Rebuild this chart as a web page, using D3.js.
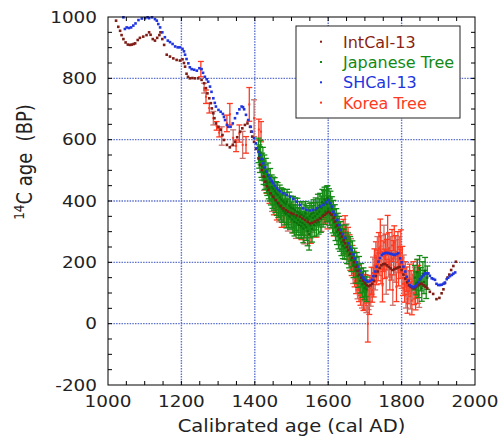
<!DOCTYPE html>
<html>
<head>
<meta charset="utf-8">
<script src="https://cdn.jsdelivr.net/npm/d3@7/dist/d3.min.js"></script>
<style>
  body { margin: 0; background: #fff; }
  svg { display: block; font-family: "DejaVu Sans", sans-serif; }
</style>
</head>
<body>
<svg id="chart" width="502" height="441"></svg>
<script>
// [cal AD, 14C age BP]
const intcal13 = [
  [1022,988],[1028,968],[1033,955],[1037,941],[1042,928],[1048,917],[1054,910],[1060,909],[1065,910],[1070,912],
  [1074,914],[1081,925],[1087,932],[1096,936],[1105,941],[1112,950],[1116,942],[1122,928],[1128,923],[1134,932],
  [1140,941],[1143,950],[1148,928],[1153,909],[1160,877],[1169,871],[1178,865],[1187,860],[1196,858],[1203,862],
  [1207,850],[1210,838],[1214,815],[1218,805],[1223,800],[1230,801],[1237,800],[1246,800],[1255,795],[1262,784],
  [1267,768],[1271,751],[1276,735],[1280,719],[1283,702],[1287,686],[1290,670],[1294,653],[1301,642],[1307,632],
  [1312,615],[1316,599],[1324,583],[1332,575],[1340,583],[1346,593],[1352,608],[1360,626],[1366,637],[1373,648],
  [1380,653],[1387,642],[1390,626],[1393,610],[1398,593],[1403,570],[1410,539],[1415,518],[1419,501],[1424,480],
  [1428,463],[1433,448],[1437,436],[1443,425],[1450,414],[1457,403],[1464,393],[1471,384],[1478,376],[1485,370],
  [1491,365],[1498,361],[1505,358],[1514,353],[1523,349],[1530,343],[1537,338],[1544,332],[1550,327],[1557,329],
  [1564,333],[1571,338],[1578,344],[1585,350],[1591,355],[1596,360],[1600,365],[1605,360],[1610,355],[1615,345],
  [1619,333],[1624,320],[1628,306],[1633,295],[1637,284],[1642,272],[1646,262],[1651,250],[1655,240],[1660,228],
  [1665,215],[1670,200],[1675,185],[1680,172],[1685,160],[1690,150],[1695,140],[1700,132],[1705,125],[1710,122],
  [1715,125],[1720,130],[1725,140],[1730,155],[1735,170],[1740,182],[1745,190],[1750,194],[1755,195],[1760,190],
  [1765,185],[1770,180],[1775,175],[1780,177],[1785,180],[1790,183],[1795,185],[1800,175],[1805,160],[1810,147],
  [1815,135],[1820,125],[1825,120],[1830,116],[1835,115],[1840,120],[1845,125],[1850,130],[1855,130],[1860,125],
  [1865,120],[1870,115],[1877,104],[1886,97],[1895,80],[1903,84],[1909,99],[1914,112],[1918,132],[1925,150],
  [1930,160],[1935,175],[1941,188],[1948,202]
];

const shcal13 = [
  [1042,999],[1046,961],[1051,966],[1057,964],[1063,966],[1069,972],[1075,979],[1083,990],[1092,995],[1101,996],
  [1108,999],[1112,996],[1120,999],[1128,993],[1133,988],[1137,977],[1142,966],[1148,950],[1155,934],[1163,923],
  [1169,918],[1176,912],[1183,904],[1190,901],[1196,901],[1203,896],[1207,888],[1210,877],[1214,863],[1219,849],
  [1223,836],[1228,830],[1235,828],[1242,825],[1249,833],[1255,830],[1259,818],[1264,805],[1269,797],[1273,789],
  [1278,773],[1282,756],[1287,735],[1291,720],[1294,708],[1301,697],[1307,691],[1313,684],[1316,674],[1319,664],
  [1324,648],[1328,642],[1334,642],[1340,653],[1346,670],[1352,686],[1358,699],[1364,708],[1368,706],[1371,699],
  [1376,681],[1382,664],[1389,642],[1392,626],[1398,605],[1403,588],[1405,572],[1410,560],[1414,550],[1419,537],
  [1423,523],[1428,510],[1432,496],[1437,485],[1441,474],[1446,466],[1450,458],[1455,450],[1460,442],[1465,436],
  [1469,431],[1478,425],[1487,420],[1496,414],[1505,407],[1514,398],[1523,387],[1532,376],[1541,371],[1550,369],
  [1559,371],[1569,376],[1578,382],[1587,387],[1594,396],[1600,403],[1605,393],[1610,382],[1614,365],[1619,355],
  [1625,338],[1630,322],[1634,306],[1640,292],[1646,280],[1655,262],[1660,250],[1664,240],[1669,226],[1673,213],
  [1678,200],[1682,186],[1687,172],[1691,159],[1696,150],[1700,143],[1705,139],[1709,137],[1714,139],[1719,143],
  [1723,155],[1728,170],[1732,186],[1737,202],[1741,214],[1746,224],[1750,228],[1755,230],[1760,231],[1764,230],
  [1769,228],[1773,227],[1778,225],[1782,224],[1787,227],[1791,230],[1796,213],[1800,200],[1805,186],[1810,170],
  [1814,153],[1819,140],[1823,126],[1828,121],[1832,119],[1837,122],[1841,126],[1846,135],[1850,145],[1855,152],
  [1860,158],[1864,164],[1868,164],[1873,164],[1877,156],[1882,148],[1886,146],[1891,143],[1895,130],[1900,126],
  [1905,126],[1909,127],[1914,130],[1918,134],[1923,145],[1927,150],[1932,155],[1937,159],[1941,163],[1946,167]
];

// [cal AD, 14C age BP, 1 sigma]
const japaneseTree = [
  [1410,565,40],[1412,545,38],[1414,535,42],[1416,558,40],[1418,515,38],[1420,512,44],[1422,535,40],[1424,492,38],
  [1426,508,42],[1428,478,40],[1430,495,44],[1432,465,38],[1434,458,40],[1436,482,42],[1438,445,38],[1440,440,40],
  [1442,462,44],[1444,425,38],[1446,445,40],[1448,418,42],[1450,440,38],[1452,410,40],[1454,432,44],[1456,402,40],
  [1458,425,38],[1460,395,42],[1462,420,40],[1464,390,44],[1466,385,38],[1468,412,40],[1470,380,42],[1472,405,38],
  [1474,375,44],[1476,400,40],[1478,368,38],[1480,395,42],[1482,362,40],[1484,390,38],[1486,358,46],[1488,398,40],
  [1490,365,42],[1492,352,38],[1494,385,44],[1496,348,40],[1498,378,38],[1500,355,42],[1502,340,44],[1504,375,40],
  [1506,350,38],[1508,332,46],[1510,370,40],[1512,345,42],[1514,328,38],[1516,365,44],[1518,338,40],[1520,322,42],
  [1522,360,38],[1524,332,44],[1526,318,40],[1528,355,42],[1530,328,38],[1532,310,46],[1534,350,40],[1536,322,42],
  [1538,360,38],[1540,315,44],[1542,345,40],[1544,302,48],[1546,340,40],[1548,292,52],[1550,350,42],[1552,320,40],
  [1554,358,38],[1556,310,44],[1558,345,40],[1560,362,42],[1562,322,38],[1564,350,44],[1566,370,40],[1568,328,42],
  [1570,358,38],[1572,378,44],[1574,332,40],[1576,365,42],[1578,385,40],[1580,342,44],[1582,378,38],[1584,396,42],
  [1586,355,40],[1588,390,44],[1590,405,40],[1592,365,42],[1594,398,38],[1596,390,58],[1598,410,40],[1600,375,42],
  [1602,402,38],[1604,365,44],[1606,392,40],[1608,355,42],[1610,376,38],[1612,340,44],[1614,362,40],[1616,330,42],
  [1618,350,38],[1620,315,44],[1622,335,40],[1624,300,42],[1626,322,38],[1628,288,44],[1630,310,40],[1632,278,42],
  [1634,295,38],[1636,266,44],[1638,282,40],[1640,254,42],
  [1642,268,40],[1645,248,38],[1648,278,44],[1651,236,40],[1654,258,38],[1657,224,42],[1660,244,40],[1663,208,38],
  [1666,228,42],[1669,190,40],[1672,208,38],[1675,174,42],[1678,192,40],[1681,156,38],[1684,175,44],[1687,140,40],
  [1690,158,38],[1693,128,42],[1696,142,40],[1699,116,38],[1702,130,42],[1705,112,40],
  [1836,150,40],[1840,132,38],[1843,168,42],[1846,125,40],[1849,178,44],[1852,145,38],[1855,115,42],[1858,162,40],
  [1861,136,38],[1864,172,44],[1867,122,40],[1870,150,38]
];

const koreaTree = [
  [1253,830,25],[1262,768,16],[1267,740,22],[1276,703,16],[1287,670,22],[1296,645,14],[1303,623,14],[1310,612,30],
  [1324,653,27],[1332,683,35],[1341,606,26],[1349,580,19],[1358,620,28],[1367,583,44],[1376,583,27],[1385,715,55],
  [1398,670,60],[1411,633,34],[1417,626,33],
  [1425,470,35],[1432,455,30],[1440,420,28],[1447,398,32],[1452,385,30],[1460,372,34],[1466,360,28],[1473,350,36],
  [1480,345,30],[1490,340,38],[1497,360,30],[1505,330,34],[1512,318,40],[1520,335,30],[1527,310,36],[1535,300,40],
  [1545,322,34],[1553,300,38],[1560,330,32],[1568,318,36],[1575,345,30],[1582,335,34],[1590,360,32],[1598,345,36],
  [1606,340,30],[1615,320,34],
  [1641,300,40],[1644,280,36],[1646,310,42],[1648,262,38],[1650,285,40],[1652,245,36],[1654,270,44],[1656,232,38],
  [1658,250,40],[1660,210,36],[1662,235,42],[1664,195,38],[1666,215,40],[1668,175,44],[1670,200,36],[1672,160,40],
  [1674,182,38],[1676,140,42],[1678,165,36],[1680,125,44],[1682,150,40],[1684,110,38],[1686,135,42],[1688,100,40],
  [1690,128,36],[1692,95,44],[1694,118,40],[1696,85,42],[1698,112,38],[1700,90,44],[1702,120,40],[1704,78,42],
  [1706,105,38],[1708,0,60],[1710,90,44],[1712,70,40],[1714,115,42],[1716,95,38],[1718,140,44],[1720,110,40],
  [1722,165,52],[1724,135,48],[1726,190,54],[1728,160,50],[1730,215,52],[1732,175,48],[1734,230,54],[1736,190,50],
  [1738,245,52],[1740,205,48],[1742,285,56],[1744,180,50],[1746,235,52],[1748,125,54],[1750,220,50],[1752,265,56],
  [1754,195,48],[1756,240,52],[1758,150,54],[1760,225,50],[1762,295,58],[1764,200,48],[1766,245,52],[1768,160,50],
  [1770,230,54],[1772,190,48],[1774,255,52],[1776,110,50],[1778,215,56],[1780,265,54],[1782,185,50],[1784,235,52],
  [1786,120,48],[1788,220,54],[1790,250,50],[1792,175,52],[1794,230,54],[1796,195,48],[1798,250,56],[1800,165,50],
  [1802,210,42],[1804,130,38],[1806,180,44],[1808,110,40],[1810,160,42],[1812,95,44],[1814,145,40],[1816,80,46],
  [1818,130,42],[1820,105,40],[1822,150,44],[1824,90,42],[1826,135,38],[1828,75,46],[1830,120,40],[1832,160,42],
  [1834,100,38],[1836,140,44],[1838,85,40],[1840,125,42],[1842,170,38],[1844,110,44],[1846,150,40],[1848,95,42]
];

const xTicks = [1000, 1200, 1400, 1600, 1800, 2000];
const yTicks = [-200, 0, 200, 400, 600, 800, 1000];
const legendNames = ['IntCal-13', 'Japanese Tree', 'SHCal-13', 'Korea Tree'];
const legendColors = ['#8a1f14', '#138a13', '#1f35e0', '#ff3a22'];

const svg = d3.select('#chart');
const x = d3.scaleLinear().domain([1000, 2000]).range([108, 475]);
const y = d3.scaleLinear().domain([-200, 1000]).range([385, 17]);
const stretch = 'scale(1.15,1)';

svg.append('rect').attr('width', 502).attr('height', 441).attr('fill', '#fff');

// grid
const grid = svg.append('g').attr('stroke', '#5d72cc').attr('stroke-width', 1.4).attr('stroke-dasharray', '1.5,1.2');
grid.selectAll('line.gx').data(xTicks.slice(1, -1)).enter().append('line')
  .attr('x1', d => x(d)).attr('x2', d => x(d)).attr('y1', y(1000)).attr('y2', y(-200));
grid.selectAll('line.gy').data(yTicks.slice(1, -1)).enter().append('line')
  .attr('y1', d => y(d)).attr('y2', d => y(d)).attr('x1', x(1000)).attr('x2', x(2000));

// error bars
function errorBars(g, data, colorFn) {
  const sel = g.selectAll('g').data(data).enter().append('g')
    .attr('stroke', (d, i) => colorFn(i)).attr('stroke-width', 1.3);
  sel.append('line').attr('x1', d => x(d[0])).attr('x2', d => x(d[0]))
    .attr('y1', d => y(d[1] + d[2])).attr('y2', d => y(d[1] - d[2]));
  sel.append('line').attr('x1', d => x(d[0]) - 3).attr('x2', d => x(d[0]) + 3)
    .attr('y1', d => y(d[1] + d[2])).attr('y2', d => y(d[1] + d[2]));
  sel.append('line').attr('x1', d => x(d[0]) - 3).attr('x2', d => x(d[0]) + 3)
    .attr('y1', d => y(d[1] - d[2])).attr('y2', d => y(d[1] - d[2]));
}

function dots(g, data, color, size) {
  g.selectAll('rect').data(data).enter().append('rect')
    .attr('x', d => x(d[0]) - size / 2).attr('y', d => y(d[1]) - size / 2)
    .attr('width', size).attr('height', size).attr('fill', color);
}

const kor = svg.append('g');
errorBars(kor, koreaTree, i => (i % 3 === 1 ? '#c9736c' : '#ff3a22'));
dots(kor, koreaTree, '#ff3a22', 2);

const jp = svg.append('g');
errorBars(jp, japaneseTree, () => '#168a16');
dots(jp, japaneseTree, '#0e6e0e', 2.2);

dots(svg.append('g'), intcal13, '#7e1d16', 2.6);
dots(svg.append('g'), shcal13, '#1f35e0', 2.6);

// frame + inward ticks every 50
svg.append('rect').attr('x', 108).attr('y', 17).attr('width', 367).attr('height', 368)
  .attr('fill', 'none').attr('stroke', '#000').attr('stroke-width', 1);
const ticks = svg.append('g').attr('stroke', '#000').attr('stroke-width', 1);
const xMinor = d3.range(1050, 2000, 50);
const yMinor = d3.range(-150, 1000, 50);
ticks.selectAll('line.bx').data(xMinor).enter().append('line')
  .attr('x1', d => x(d)).attr('x2', d => x(d)).attr('y1', 385).attr('y2', 381);
ticks.selectAll('line.tx').data(xMinor).enter().append('line')
  .attr('x1', d => x(d)).attr('x2', d => x(d)).attr('y1', 17).attr('y2', 21);
ticks.selectAll('line.ly').data(yMinor).enter().append('line')
  .attr('y1', d => y(d)).attr('y2', d => y(d)).attr('x1', 108).attr('x2', 112);
ticks.selectAll('line.ry').data(yMinor).enter().append('line')
  .attr('y1', d => y(d)).attr('y2', d => y(d)).attr('x1', 475).attr('x2', 471);

// tick labels
svg.selectAll('text.xt').data(xTicks).enter().append('text')
  .attr('transform', d => `translate(${x(d)},407) ${stretch}`)
  .attr('text-anchor', 'middle').attr('font-size', 16).attr('fill', '#222').text(d => d);
svg.selectAll('text.yt').data(yTicks).enter().append('text')
  .attr('transform', d => `translate(97,${y(d) + 5.5}) ${stretch}`)
  .attr('text-anchor', 'end').attr('font-size', 16).attr('fill', '#222').text(d => d);

// axis titles
svg.append('text').attr('transform', `translate(291.5,432) ${stretch}`)
  .attr('text-anchor', 'middle').attr('font-size', 17).attr('fill', '#222')
  .text('Calibrated age (cal AD)');
const yl = svg.append('text').attr('transform', `translate(32,162) ${stretch} rotate(-90)`)
  .attr('text-anchor', 'middle').attr('font-size', 18).attr('fill', '#222');
yl.append('tspan').attr('font-size', 12).attr('dy', -7).text('14');
yl.append('tspan').attr('dy', 7).text('C age\u00a0\u00a0(BP)');

// legend
const lg = svg.append('g');
lg.append('rect').attr('x', 296).attr('y', 26).attr('width', 164).attr('height', 92)
  .attr('fill', '#fff').attr('stroke', '#222').attr('stroke-width', 1);
const rows = lg.selectAll('g').data(legendNames).enter().append('g')
  .attr('transform', (d, i) => `translate(0,${47.7 + i * 20.3})`);
rows.append('rect').attr('x', 320).attr('y', -7).attr('width', 2).attr('height', 2)
  .attr('fill', (d, i) => legendColors[i]);
rows.append('text').attr('x', 343).attr('font-size', 16)
  .attr('fill', (d, i) => legendColors[i]).text(d => d);
</script>
</body>
</html>
